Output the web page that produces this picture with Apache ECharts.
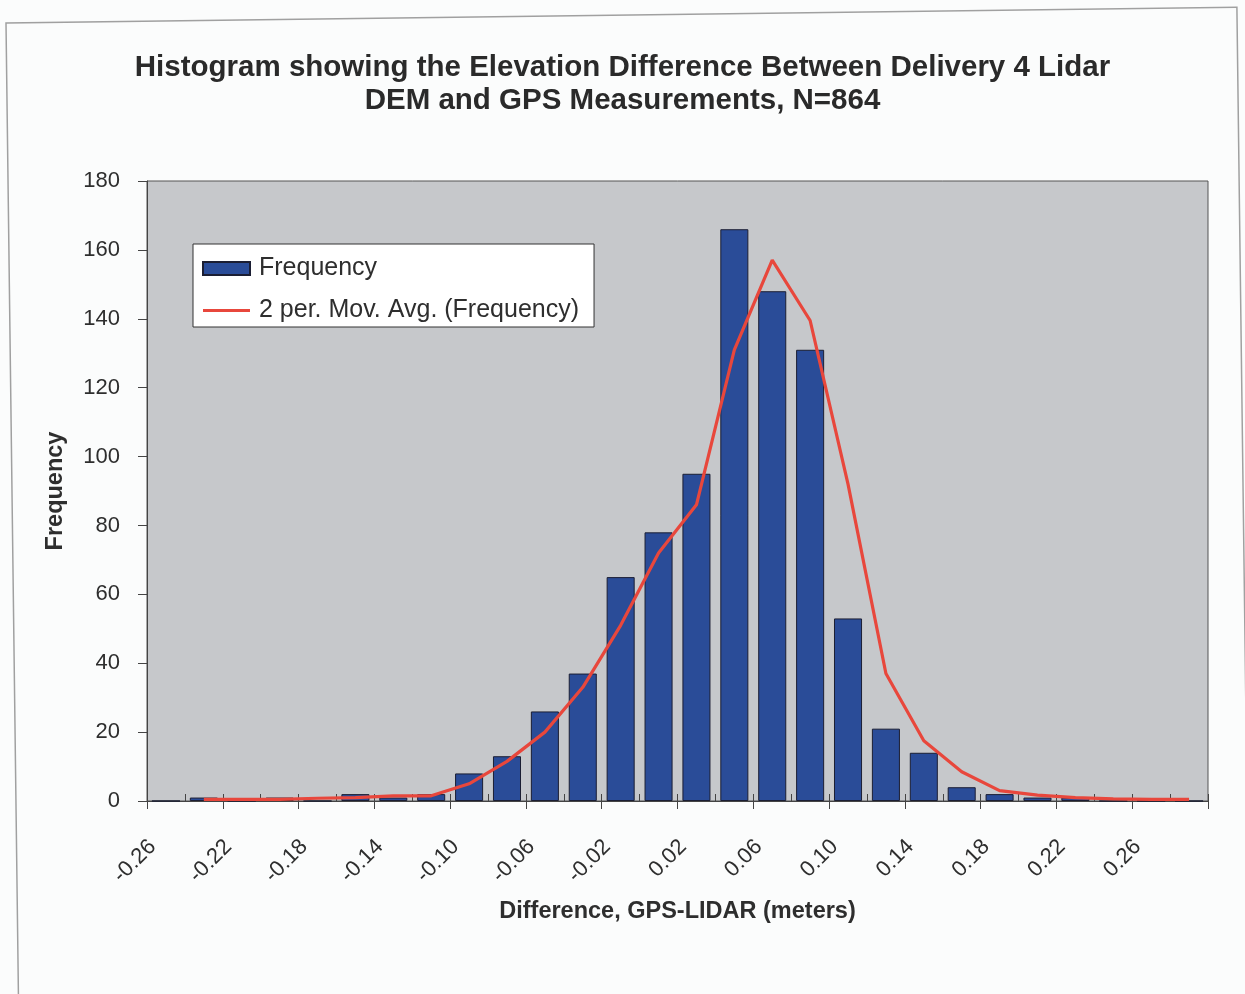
<!DOCTYPE html>
<html>
<head>
<meta charset="utf-8">
<script src="https://cdn.jsdelivr.net/npm/echarts@6/dist/echarts.min.js"></script>
<style>
  html, body { margin: 0; padding: 0; background: #fbfcfc; }
  #chart { width: 1245px; height: 994px; }
</style>
</head>
<body>
<div id="chart"></div>
<script>
// Bin labels (GPS-LIDAR difference, meters)
const categories = ['-0.26', '-0.24', '-0.22', '-0.20', '-0.18', '-0.16', '-0.14', '-0.12', '-0.10', '-0.08',
  '-0.06', '-0.04', '-0.02', '0.00', '0.02', '0.04', '0.06', '0.08', '0.10', '0.12',
  '0.14', '0.16', '0.18', '0.20', '0.22', '0.24', '0.26', '0.28'];
// Frequency per bin
const frequency = [0, 1, 0, 1, 0, 2, 1, 2, 8, 13,
  26, 37, 65, 78, 95, 166, 148, 131, 53, 21,
  14, 4, 2, 1, 1, 0, 0, 0];
// 2 period moving average trendline
const movAvg = [null, 0.5, 0.5, 0.5, 0.8, 1, 1.5, 1.5, 5, 11.5,
  20, 33, 51, 72, 86, 131, 157, 139.5, 92, 37,
  17.5, 8.5, 3, 1.7, 1, 0.6, 0.5, 0.5];
const yTicks = { min: 0, max: 180, interval: 20 };

const chart = echarts.init(document.getElementById('chart'), null, { renderer: 'canvas' });
const textColor = '#2e2e2e';
const font = 'Liberation Sans, Arial, Helvetica, sans-serif';

chart.setOption({
  backgroundColor: '#fbfcfc',
  animation: false,
  textStyle: { fontFamily: font },
  title: {
    text: 'Histogram showing the Elevation Difference Between Delivery 4 Lidar\nDEM and GPS Measurements, N=864',
    left: 'center',
    top: 47,
    textStyle: { fontFamily: font, fontSize: 29.5, fontWeight: 'bold', color: '#2a2a2a', lineHeight: 32.5 }
  },
  graphic: [{
    type: 'rect',
    x: 6, y: 23,
    rotation: 0.0128,
    shape: { x: 0, y: 0, width: 1231, height: 1000 },
    style: { fill: 'none', stroke: '#a0a0a0', lineWidth: 1.5 },
    silent: true,
    z: -1
  }],
  legend: {
    left: 193,
    top: 244,
    orient: 'vertical',
    backgroundColor: '#ffffff',
    borderColor: '#333333',
    borderWidth: 1,
    padding: [12, 15, 4, 9],
    itemWidth: 47,
    itemHeight: 13,
    itemGap: 17,
    textStyle: { fontFamily: font, fontSize: 25, color: textColor, padding: [0, 0, 0, 4] },
    data: [
      { name: 'Frequency', icon: 'rect' },
      { name: '2 per. Mov. Avg. (Frequency)', icon: 'path://M0,0L0.01,0M0,13L0.01,13M0,5L47,5L47,8L0,8Z' }
    ]
  },
  grid: {
    left: 147,
    right: 37,
    top: 181,
    bottom: 193,
    show: true,
    backgroundColor: '#c6c8cb',
    borderColor: '#555555',
    borderWidth: 1
  },
  xAxis: [{
    type: 'category',
    data: categories,
    name: 'Difference, GPS-LIDAR (meters)',
    nameLocation: 'middle',
    nameGap: 99,
    nameTextStyle: { fontFamily: font, fontSize: 23.5, fontWeight: 'bold', color: textColor },
    axisLine: { show: true, lineStyle: { color: '#444', width: 1 } },
    axisTick: { show: true, length: 8, lineStyle: { color: '#444' } },
    axisLabel: { interval: 1, rotate: 45, margin: 29, fontSize: 22, color: textColor, fontFamily: font, padding: [0, 19, 0, 0] },
    splitLine: { show: false }
  }, {
    type: 'category',
    data: categories,
    position: 'bottom',
    axisLine: { show: false },
    axisTick: { show: true, inside: true, length: 7, lineStyle: { color: '#444' } },
    axisLabel: { show: false },
    splitLine: { show: false }
  }],
  yAxis: {
    type: 'value',
    min: yTicks.min,
    max: yTicks.max,
    interval: yTicks.interval,
    name: 'Frequency',
    nameLocation: 'middle',
    nameGap: 79,
    nameTextStyle: { fontFamily: font, fontSize: 23.5, fontWeight: 'bold', color: textColor },
    axisLine: { show: true, lineStyle: { color: '#444' } },
    axisTick: { show: true, length: 9, lineStyle: { color: '#444' } },
    axisLabel: { margin: 27, fontSize: 22, color: textColor, fontFamily: font },
    splitLine: { show: false }
  },
  series: [{
    name: 'Frequency',
    type: 'bar',
    data: frequency,
    barCategoryGap: '26%',
    itemStyle: { color: '#2a4c98', borderColor: '#1b1e33', borderWidth: 1 },
    z: 2
  }, {
    name: '2 per. Mov. Avg. (Frequency)',
    type: 'line',
    data: movAvg,
    symbol: 'none',
    connectNulls: false,
    lineStyle: { color: '#e8473c', width: 3.2 },
    itemStyle: { color: '#e8473c' },
    z: 3
  }]
});
</script>
</body>
</html>
